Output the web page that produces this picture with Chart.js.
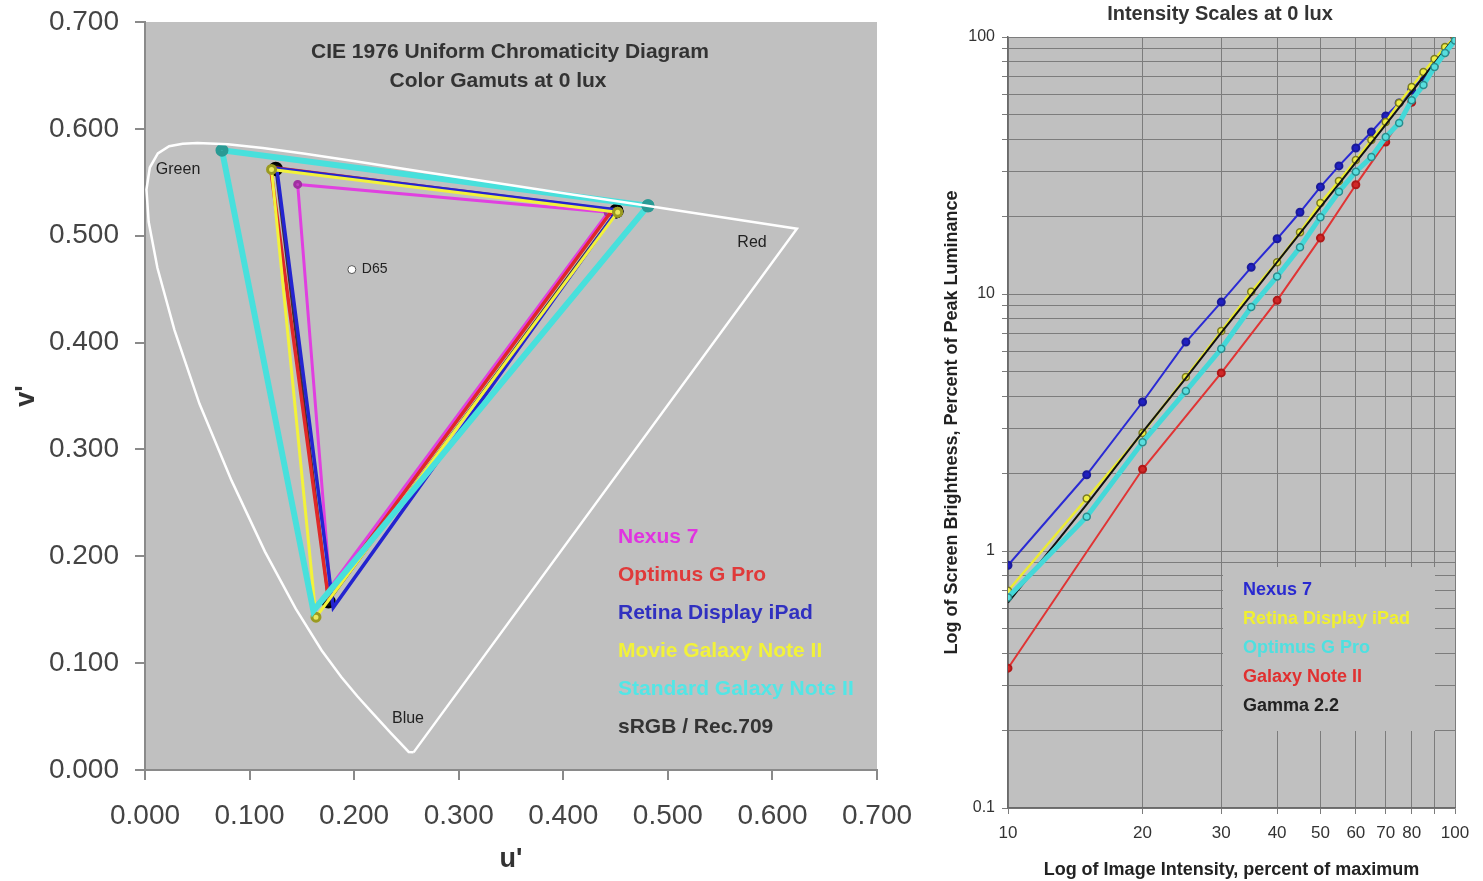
<!DOCTYPE html>
<html lang="en">
<head>
<meta charset="UTF-8">
<title>Color Gamuts and Intensity Scales at 0 lux</title>
<script src="https://cdn.jsdelivr.net/npm/chart.js@4.4.0/dist/chart.umd.min.js"></script>
<style>
    body { margin: 0; background: #fff; width: 1483px; height: 881px; overflow: hidden; position: relative; }
    #cieChart { position: absolute; left: 0; top: 0; }
    #gammaChart { position: absolute; left: 930px; top: 0; }
</style>
</head>
<body>

<canvas id="cieChart" width="930" height="881"></canvas>
<canvas id="gammaChart" width="553" height="881"></canvas>

<script>
    const FONT = 'Arial, "Liberation Sans", sans-serif';

    // ---- CIE 1976 u'v' data ----
    // spectral locus 380nm .. 700nm, closed back to 380nm by the line of purples
    const locusU = [0.2568, 0.2522, 0.2347, 0.2161, 0.2033, 0.1877, 0.1690, 0.1441, 0.1147, 0.0828, 0.0521, 0.0282,
                    0.0119, 0.0035, 0.0014, 0.0046, 0.0123, 0.0231, 0.0360, 0.0501, 0.0792, 0.1127, 0.1531, 0.2026,
                    0.2623, 0.3315, 0.4035, 0.4692, 0.5203, 0.5830, 0.6234, 0.2568];
    const locusV = [0.0165, 0.0169, 0.0350, 0.0549, 0.0688, 0.0871, 0.1119, 0.1510, 0.2044, 0.2708, 0.3427, 0.4117,
                    0.4698, 0.5131, 0.5432, 0.5638, 0.5770, 0.5837, 0.5861, 0.5868, 0.5856, 0.5821, 0.5766, 0.5694,
                    0.5604, 0.5501, 0.5393, 0.5296, 0.5219, 0.5125, 0.5065, 0.0165];

    // gamut triangles: red, green, blue, back to red
    const standardNoteU = [0.481, 0.0736, 0.161, 0.481];
    const standardNoteV = [0.528, 0.580, 0.149, 0.528];
    const movieNoteU = [0.452, 0.121, 0.1635, 0.452];
    const movieNoteV = [0.522, 0.562, 0.143, 0.522];
    const retinaU = [0.452, 0.126, 0.180, 0.452];
    const retinaV = [0.524, 0.563, 0.152, 0.524];
    const optimusU = [0.447, 0.120, 0.175, 0.447];
    const optimusV = [0.524, 0.564, 0.163, 0.524];
    const nexusU = [0.443, 0.146, 0.177, 0.443];
    const nexusV = [0.522, 0.548, 0.171, 0.522];
    const srgbU = [0.4507, 0.1250, 0.1754, 0.4507];
    const srgbV = [0.5229, 0.5625, 0.1579, 0.5229];
    const d65U = [0.1978];
    const d65V = [0.4683];

    const cieTitle = ['CIE 1976 Uniform Chromaticity Diagram', 'Color Gamuts at 0 lux'];
    const cieLegendOrder = ['Nexus 7', 'Optimus G Pro', 'Retina Display iPad', 'Movie Galaxy Note II',
                            'Standard Galaxy Note II', 'sRGB / Rec.709'];

    // ---- Intensity scale data (percent) ----
    const intensityBy5 = [10, 15, 20, 25, 30, 35, 40, 45, 50, 55, 60, 65, 70, 75, 80, 85, 90, 95, 100];
    const intensityBy10 = [10, 20, 30, 40, 50, 60, 70, 80, 90, 100];
    const nexusLum = [0.88, 1.98, 3.8, 6.5, 9.3, 12.7, 16.4, 20.8, 26.1, 31.5, 37.0, 42.7, 49.3, 55.4, 62.2, 69.9, 79.2, 87.4, 100];
    const retinaLum = [0.70, 1.60, 2.88, 4.75, 7.18, 10.2, 13.3, 17.4, 22.6, 27.5, 33.2, 39.7, 46.7, 55.4, 63.9, 73.1, 82.1, 91.4, 100];
    const optimusLum = [0.66, 1.36, 2.65, 4.19, 6.12, 8.9, 11.7, 15.2, 19.9, 25.0, 29.9, 34.1, 40.8, 46.3, 56.8, 65.0, 76.5, 86.6, 97];
    const gammaLum = [0.63, 1.52, 2.90, 4.71, 7.07, 9.91, 13.3, 17.2, 21.8, 26.8, 32.5, 38.7, 45.6, 53.1, 61.2, 69.9, 79.3, 89.3, 100];
    const noteLum = [0.35, 2.08, 4.93, 9.45, 16.5, 26.6, 39.0, 55.7, 78.0, 100];

    const xGridValues = [10, 20, 30, 40, 50, 60, 70, 80, 90, 100];
    const xTickLabels = [10, 20, 30, 40, 50, 60, 70, 80, 100];
    const yGridValues = [0.1, 0.2, 0.3, 0.4, 0.5, 0.6, 0.7, 0.8, 0.9, 1, 2, 3, 4, 5, 6, 7, 8, 9,
                         10, 20, 30, 40, 50, 60, 70, 80, 90, 100];
    const yTickLabels = [0.1, 1, 10, 100];
    const gammaLegendOrder = ['Nexus 7', 'Retina Display iPad', 'Optimus G Pro', 'Galaxy Note II', 'Gamma 2.2'];

    function pts(xs, ys) { return xs.map((x, i) => ({x: x, y: ys[i]})); }

    Chart.defaults.font.family = FONT;

    // ================= left: CIE diagram =================
    const cieDecor = {
        id: 'cieDecor',
        beforeDraw(chart) {
            const {ctx, chartArea: a} = chart;
            ctx.save();
            ctx.fillStyle = '#c0c0c0';
            ctx.fillRect(a.left, a.top, a.right - a.left, a.bottom - a.top);
            ctx.restore();
        },
        afterDatasetsDraw(chart) {
            const {ctx, scales: {x, y}} = chart;
            ctx.save();
            ctx.textBaseline = 'middle';
            ctx.fillStyle = '#333';
            ctx.font = 'bold 21px ' + FONT;
            ctx.textAlign = 'center';
            ctx.fillText(cieTitle[0], 510, 52);
            ctx.fillText(cieTitle[1], 498, 81);

            ctx.font = '16px ' + FONT;
            ctx.fillStyle = '#222';
            ctx.fillText('Green', x.getPixelForValue(0.0316), y.getPixelForValue(0.5615));
            ctx.fillText('Red', x.getPixelForValue(0.5805), y.getPixelForValue(0.4932));
            ctx.fillText('Blue', x.getPixelForValue(0.2515), y.getPixelForValue(0.0477));
            ctx.font = '14px ' + FONT;
            ctx.textAlign = 'left';
            ctx.fillText('D65', x.getPixelForValue(d65U[0]) + 10, y.getPixelForValue(d65V[0]));

            // legend as coloured text
            ctx.font = 'bold 21px ' + FONT;
            cieLegendOrder.forEach((name, i) => {
                const ds = chart.data.datasets.find(d => d.label === name);
                ctx.fillStyle = ds.textColor;
                ctx.fillText(name, 618, 537 + i * 38);
            });
            ctx.restore();
        }
    };

    new Chart(document.getElementById('cieChart'), {
        type: 'scatter',
        data: {
            datasets: [
                { label: 'locus', data: pts(locusU, locusV), showLine: true, borderColor: '#ffffff',
                  borderWidth: 2.5, pointRadius: 0 },
                { label: 'Standard Galaxy Note II', data: pts(standardNoteU, standardNoteV), showLine: true,
                  borderColor: '#48e0dc', borderWidth: 6, pointRadius: [3.5, 3.5, 0, 3.5],
                  pointBackgroundColor: '#3cc8c0', pointBorderColor: '#2a9a94', textColor: '#52e6e6' },
                { label: 'Movie Galaxy Note II', data: pts(movieNoteU, movieNoteV), showLine: true,
                  borderColor: '#f2f23a', borderWidth: 3, pointRadius: 4,
                  pointBackgroundColor: '#e8e860', pointBorderColor: '#9a9a20', textColor: '#f2f23a' },
                { label: 'Retina Display iPad', data: pts(retinaU, retinaV), showLine: true,
                  borderColor: '#2424d0', borderWidth: 3.5, pointRadius: 0, textColor: '#3030c0' },
                { label: 'Optimus G Pro', data: pts(optimusU, optimusV), showLine: true,
                  borderColor: '#e02828', borderWidth: 3.5, pointRadius: 0, textColor: '#e03a3a' },
                { label: 'Nexus 7', data: pts(nexusU, nexusV), showLine: true,
                  borderColor: '#e040e0', borderWidth: 3, pointRadius: 3,
                  pointBackgroundColor: '#c040c0', pointBorderColor: '#a030a0', textColor: '#e034e0' },
                { label: 'sRGB / Rec.709', data: pts(srgbU, srgbV), showLine: true,
                  borderColor: 'rgba(20,0,10,0.75)', borderWidth: 2.5, pointRadius: 6,
                  pointBackgroundColor: '#111', pointBorderColor: '#000', textColor: '#333' },
                { label: 'D65', data: pts(d65U, d65V), pointRadius: 4, pointBackgroundColor: '#fff',
                  pointBorderColor: '#555', pointBorderWidth: 1 }
            ]
        },
        options: {
            responsive: false,
            animation: false,
            layout: { padding: { left: 0, right: 53, top: 22, bottom: 0 } },
            plugins: { legend: { display: false }, tooltip: { enabled: false } },
            elements: { line: { tension: 0 } },
            scales: {
                x: {
                    type: 'linear', min: 0, max: 0.7,
                    ticks: { stepSize: 0.1, padding: 19, color: '#444', font: { size: 28 },
                             maxRotation: 0, callback: v => v.toFixed(3) },
                    grid: { drawOnChartArea: false, tickLength: 10, color: '#8a8a8a', lineWidth: 2 },
                    border: { color: '#8a8a8a', width: 2 },
                    title: { display: true, text: "u'", color: '#333', font: { size: 27, weight: 'bold' },
                             padding: { top: 0, bottom: 5 } },
                    afterFit(s) { s.height = 111; s.paddingLeft = 0; s.paddingRight = 0; }
                },
                y: {
                    type: 'linear', min: 0, max: 0.7,
                    ticks: { stepSize: 0.1, padding: 16, color: '#444', font: { size: 28 },
                             callback: v => v.toFixed(3) },
                    grid: { drawOnChartArea: false, tickLength: 10, color: '#8a8a8a', lineWidth: 2 },
                    border: { color: '#8a8a8a', width: 2 },
                    title: { display: true, text: "v'", color: '#333', font: { size: 27, weight: 'bold' },
                             padding: { top: 10, bottom: 0 } },
                    afterFit(s) { s.width = 145; s.paddingTop = 0; s.paddingBottom = 0; }
                }
            }
        },
        plugins: [cieDecor]
    });

    // ================= right: intensity scales =================
    const gammaDecor = {
        id: 'gammaDecor',
        beforeDraw(chart) {
            const {ctx, chartArea: a} = chart;
            ctx.save();
            ctx.fillStyle = '#c0c0c0';
            ctx.fillRect(a.left, a.top, a.right - a.left, a.bottom - a.top);
            ctx.restore();
        },
        beforeDatasetsDraw(chart) {
            const ctx = chart.ctx;
            ctx.save();
            // legend box hides the grid behind it
            ctx.fillStyle = '#c0c0c0';
            ctx.fillRect(293, 567, 212, 164);
            ctx.restore();
        },
        afterDraw(chart) {
            const ctx = chart.ctx;
            ctx.save();
            ctx.textBaseline = 'middle';
            ctx.textAlign = 'center';
            ctx.fillStyle = '#333';
            ctx.font = 'bold 20px ' + FONT;
            ctx.fillText('Intensity Scales at 0 lux', 290, 14);

            ctx.textAlign = 'left';
            ctx.font = 'bold 18px ' + FONT;
            gammaLegendOrder.forEach((name, i) => {
                const ds = chart.data.datasets.find(d => d.label === name);
                ctx.fillStyle = ds.textColor;
                ctx.fillText(name, 313, 590 + i * 29);
            });
            ctx.restore();
        }
    };

    new Chart(document.getElementById('gammaChart'), {
        type: 'scatter',
        data: {
            datasets: [
                { label: 'Optimus G Pro', data: pts(intensityBy5, optimusLum), showLine: true,
                  borderColor: '#44d8d8', borderWidth: 5, pointRadius: 3.5, pointBorderWidth: 1.5,
                  pointBackgroundColor: '#58dede', pointBorderColor: '#2a8c8c', textColor: '#4fe0e0' },
                { label: 'Gamma 2.2', data: pts(intensityBy5, gammaLum), showLine: true,
                  borderColor: '#111', borderWidth: 2, pointRadius: 0, textColor: '#222' },
                { label: 'Retina Display iPad', data: pts(intensityBy5, retinaLum), showLine: true,
                  borderColor: '#ecec30', borderWidth: 2.5, pointRadius: 3.5, pointBorderWidth: 1.5,
                  pointBackgroundColor: '#eeee44', pointBorderColor: '#7c7c20', textColor: '#f0f030' },
                { label: 'Galaxy Note II', data: pts(intensityBy10, noteLum), showLine: true,
                  borderColor: '#e03434', borderWidth: 2, pointRadius: 3.5,
                  pointBackgroundColor: '#d02828', pointBorderColor: '#b01818', textColor: '#e03030' },
                { label: 'Nexus 7', data: pts(intensityBy5, nexusLum), showLine: true,
                  borderColor: '#2a2ad4', borderWidth: 2, pointRadius: 3.5,
                  pointBackgroundColor: '#2020c0', pointBorderColor: '#1a1a9a', textColor: '#2a2ad0' }
            ]
        },
        options: {
            responsive: false,
            animation: false,
            layout: { padding: { left: 0, right: 28, top: 37, bottom: 0 } },
            plugins: { legend: { display: false }, tooltip: { enabled: false } },
            elements: { line: { tension: 0 } },
            scales: {
                x: {
                    type: 'logarithmic', min: 10, max: 100,
                    afterBuildTicks(s) { s.ticks = xGridValues.map(v => ({ value: v })); },
                    ticks: { autoSkip: false, maxRotation: 0, padding: 9, color: '#333', font: { size: 17 },
                             callback: v => xTickLabels.includes(v) ? String(v) : '' },
                    grid: { color: '#7c7c7c', lineWidth: 1, tickLength: 6 },
                    border: { color: '#6a6a6a', width: 1.5 },
                    title: { display: true, text: 'Log of Image Intensity, percent of maximum', color: '#222',
                             font: { size: 18, weight: 'bold' }, padding: { top: 0, bottom: 0 } },
                    afterFit(s) { s.height = 73; s.paddingLeft = 0; s.paddingRight = 0; }
                },
                y: {
                    type: 'logarithmic', min: 0.1, max: 100,
                    afterBuildTicks(s) { s.ticks = yGridValues.map(v => ({ value: v })); },
                    ticks: { autoSkip: false, padding: 7, color: '#333', font: { size: 16 },
                             callback: v => yTickLabels.includes(v) ? String(v) : '' },
                    grid: { color: '#7c7c7c', lineWidth: 1, tickLength: 6 },
                    border: { color: '#6a6a6a', width: 1.5 },
                    title: { display: true, text: 'Log of Screen Brightness, Percent of Peak Luminance', color: '#222',
                             font: { size: 18, weight: 'bold' }, padding: { top: 11, bottom: 0 } },
                    afterFit(s) { s.width = 78; s.paddingTop = 0; s.paddingBottom = 0; }
                }
            }
        },
        plugins: [gammaDecor]
    });
</script>

</body>
</html>
